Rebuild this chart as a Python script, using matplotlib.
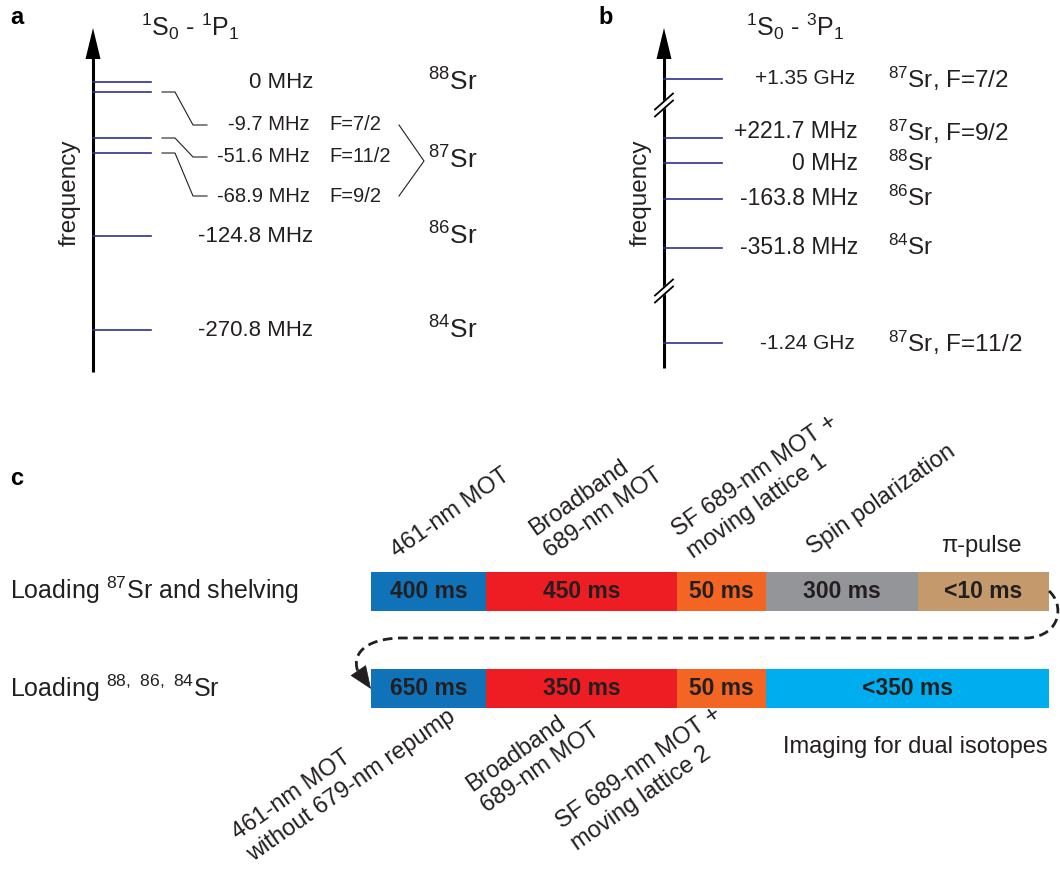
import matplotlib.pyplot as plt
from matplotlib.path import Path
from matplotlib.patches import PathPatch, Polygon

plt.rcParams['font.family'] = ['Liberation Sans', 'DejaVu Sans']
plt.rcParams['mathtext.default'] = 'regular'

# panel a : 1S0 - 1P1
a_shift = ['0 MHz', '-124.8 MHz', '-270.8 MHz']
a_iso = ['88', '86', '84']
a_hf_shift = ['-9.7 MHz', '-51.6 MHz', '-68.9 MHz']
a_hf_F = ['F=7/2', 'F=11/2', 'F=9/2']

# panel b : 1S0 - 3P1
b_shift = ['+1.35 GHz', '+221.7 MHz', '0 MHz', '-163.8 MHz', '-351.8 MHz', '-1.24 GHz']
b_iso = ['87', '87', '88', '86', '84', '87']
b_F = ['F=7/2', 'F=9/2', '', '', '', 'F=11/2']

# panel c : sequence
seq1_time = ['400 ms', '450 ms', '50 ms', '300 ms', '<10 ms']
seq1_name = ['461-nm MOT', 'Broadband\n689-nm MOT', 'SF 689-nm MOT +\nmoving lattice 1',
             'Spin polarization', 'π-pulse']
seq2_time = ['650 ms', '350 ms', '50 ms', '<350 ms']
seq2_name = ['461-nm MOT\nwithout 679-nm repump', 'Broadband\n689-nm MOT',
             'SF 689-nm MOT +\nmoving lattice 2', 'Imaging for dual isotopes']
seq1_col = ['#1072b9', '#ee1d23', '#f26522', '#939598', '#c49a6c']
seq2_col = ['#1072b9', '#ee1d23', '#f26522', '#00aeef']

# schematic layout (pixels)
a_row = [82, 236, 330]
a_hf_lvl = [92, 138, 153]
a_hf_row = [125, 157, 196]
b_row = [79, 138, 163, 199, 248, 343]
b_lab = [79, 132, 163, 198, 247, 343]
edges1 = [371, 486, 677, 766, 918, 1049]
edges2 = [371, 486, 677, 766, 1049]

navy = '#2e3192'
ink = '#231f20'

fig = plt.figure(figsize=(10.6, 8.71), dpi=100)
ax = fig.add_axes([0, 0, 1, 1])
ax.set_xlim(0, 1060)
ax.set_ylim(871, 0)
ax.axis('off')


def freq_axis(x, ybot):
    ax.plot([x, x], [ybot, 50], color='k', lw=2.2, solid_capstyle='butt')
    ax.add_patch(Polygon([[x, 28], [x - 7.5, 59], [x + 7.5, 59]], closed=True,
                         color='k', lw=0))
    ax.text(x - 23, 193, 'frequency', rotation=90, ha='center', va='center',
            fontsize=17.5, color=ink)


# ---------- a ----------
ax.text(10, 18, 'a', fontsize=17, fontweight='bold', ha='left', va='center')
ax.text(190, 27, r'$^1$S$_0$ - $^1$P$_1$', fontsize=18, ha='center', va='center', color=ink)
freq_axis(93, 372)
for y in a_row + a_hf_lvl:
    ax.plot([93, 151], [y, y], color=navy, lw=1.2)
for y, s, iso in zip(a_row, a_shift, a_iso):
    ax.text(313, y, s, fontsize=16, ha='right', va='center', color=ink)
    ax.text(477, y, r'$^{%s}$Sr' % iso, fontsize=19, ha='right', va='center', color=ink)
for yl, yr, s, f in zip(a_hf_lvl, a_hf_row, a_hf_shift, a_hf_F):
    ax.plot([162, 175, 193, 207], [yl, yl, yr, yr], color=ink, lw=0.8)
    ax.text(310, yr, s, fontsize=14.5, ha='right', va='center', color=ink)
    ax.text(329, yr, f, fontsize=14.5, ha='left', va='center', color=ink)
ax.plot([399, 424, 399], [a_hf_row[0], 161, a_hf_row[2]], color=ink, lw=0.8)
ax.text(477, 160, r'$^{87}$Sr', fontsize=19, ha='right', va='center', color=ink)

# ---------- b ----------
ax.text(598, 18, 'b', fontsize=17, fontweight='bold', ha='left', va='center')
ax.text(795, 27, r'$^1$S$_0$ - $^3$P$_1$', fontsize=18, ha='center', va='center', color=ink)
freq_axis(664, 368)
for yb in [105, 291]:
    ax.plot([655, 673], [yb + 8, yb - 8], color='white', lw=5, zorder=3)
    for d in [-3.5, 3.5]:
        ax.plot([655, 673], [yb + d + 8, yb + d - 8], color='k', lw=1.3, zorder=4)
for y, yl, s, iso, f in zip(b_row, b_lab, b_shift, b_iso, b_F):
    ax.plot([664, 722], [y, y], color=navy, lw=1.2)
    fs = 15 if 'GHz' in s else 16.5
    ax.text(858 if 'MHz' in s else 855, yl, s, fontsize=fs, ha='right', va='center', color=ink)
    lab = r'$^{%s}$Sr' % iso + (', ' + f if f else '')
    ax.text(888, yl, lab, fontsize=17.5, ha='left', va='center', color=ink)

# ---------- c ----------
ax.text(10, 478, 'c', fontsize=17, fontweight='bold', ha='left', va='center')
ax.text(10, 590, r'Loading $^{87}$Sr and shelving', fontsize=18, ha='left', va='center', color=ink)
ax.text(10, 688, r'Loading $^{88,\ 86,\ 84}$Sr', fontsize=18, ha='left', va='center', color=ink)

for yc, edges, times, cols in [(591, edges1, seq1_time, seq1_col), (688, edges2, seq2_time, seq2_col)]:
    lefts = edges[:-1]
    widths = [b - a for a, b in zip(edges[:-1], edges[1:])]
    ax.barh([yc] * len(widths), widths, left=lefts, height=39, color=cols, lw=0)
    for l, w, t in zip(lefts, widths, times):
        ax.text(l + w / 2, yc, t, fontsize=16.5, fontweight='bold', ha='center', va='center', color=ink)

top_anchor = [(400, 562), (553, 562), (696, 563), (816, 559)]
for (x, y), name in zip(top_anchor, seq1_name[:4]):
    ax.text(x, y, name, fontsize=17, rotation=35, rotation_mode='anchor',
            ha='left', va='bottom', color=ink, linespacing=1.25)
ax.text(981, 552, seq1_name[4], fontsize=17, ha='center', va='baseline', color=ink)

bot_anchor = [(228, 826), (462, 778), (552, 815)]
for (x, y), name in zip(bot_anchor, seq2_name[:3]):
    ax.text(x, y, name, fontsize=17, rotation=35, rotation_mode='anchor',
            ha='left', va='top', color=ink, linespacing=1.25)
ax.text(783, 747, seq2_name[3], fontsize=17, ha='left', va='center', color=ink)

# dashed loop from the end of sequence 1 to the start of sequence 2
verts = [(1049, 591), (1064, 604), (1062, 635), (1028, 638), (400, 638),
         (364, 639), (350, 655), (359, 674)]
codes = [Path.MOVETO, Path.CURVE4, Path.CURVE4, Path.CURVE4, Path.LINETO,
         Path.CURVE4, Path.CURVE4, Path.CURVE4]
ax.add_patch(PathPatch(Path(verts, codes), fill=False, ec=ink, lw=2,
                       linestyle=(0, (3.5, 2))))
ax.annotate('', xy=(371, 689), xytext=(358, 670),
            arrowprops=dict(arrowstyle='-|>,head_length=1.1,head_width=0.45',
                            fc=ink, ec=ink, lw=0.5, mutation_scale=14,
                            shrinkA=0, shrinkB=0))

fig.savefig('out.png', dpi=100)
